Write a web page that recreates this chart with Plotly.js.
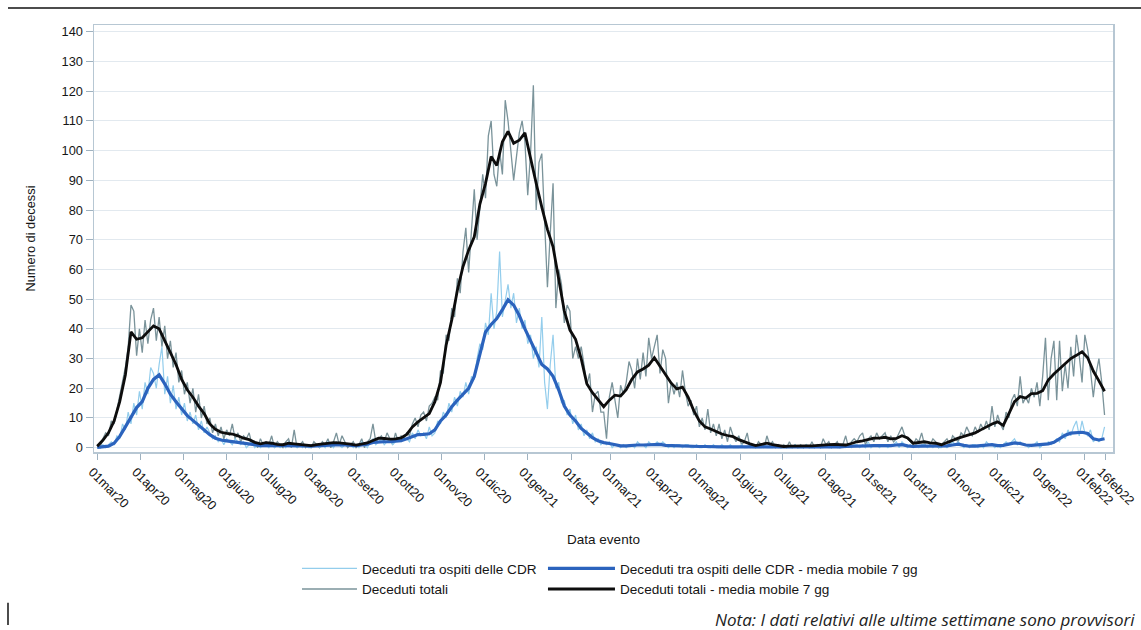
<!DOCTYPE html>
<html>
<head>
<meta charset="utf-8">
<script src="https://cdn.plot.ly/plotly-3.0.1.min.js"></script>
<style>
  html, body { margin: 0; padding: 0; background: #ffffff; }
  #chart { width: 1141px; height: 630px; }
</style>
</head>
<body>
<div id="chart"></div>
<script>
// Daily series are sampled every 2 days from 1 March 2020, 7-day averages every 4 days.
const startDate = '2020-03-01';
const dailyStepDays = 2;
const avgStepDays = 4;

// Deceduti totali (daily)
const totaliGiornalieri = [
  1, 0, 3, 5, 4, 9, 8, 13, 17, 22,
  27, 34, 48, 46, 31, 40, 32, 43, 35, 43,
  47, 36, 44, 34, 41, 30, 36, 27, 32, 22,
  26, 18, 22, 15, 20, 12, 18, 10, 14, 8,
  10, 5, 8, 4, 7, 3, 6, 4, 8, 3,
  5, 2, 4, 3, 5, 1, 2, 0, 3, 1,
  2, 1, 4, 0, 2, 1, 0, 2, 3, 0,
  6, 0, 1, 2, 0, 1, 0, 2, 1, 0,
  2, 1, 3, 0, 2, 5, 1, 4, 2, 0,
  1, 2, 0, 1, 3, 0, 2, 3, 8, 2,
  3, 4, 2, 5, 3, 1, 5, 2, 4, 3,
  5, 4, 8, 10, 7, 11, 12, 9, 14, 15,
  17, 16, 26, 25, 38, 36, 47, 44, 57, 52,
  66, 74, 59, 72, 87, 70, 80, 92, 84, 105,
  110, 92, 88, 100, 92, 117, 110, 100, 90, 98,
  106, 110, 103, 85, 99, 122, 80, 96, 99, 76,
  54, 72, 89, 47, 60, 55, 42, 48, 46, 30,
  34, 30, 34, 28, 21, 25, 12, 18, 19, 12,
  12, 3, 17, 22, 16, 10, 21, 18, 22, 29,
  26, 20, 30, 23, 32, 24, 37, 30, 34, 38,
  25, 33, 30, 15, 22, 18, 22, 17, 26, 19,
  14, 16, 11, 14, 7, 10, 6, 13, 5, 8,
  4, 8, 3, 6, 2, 7, 4, 2, 4, 1,
  2, 5, 0, 1, 0, 2, 1, 0, 4, 1,
  2, 0, 1, 0, 1, 0, 2, 0, 1, 0,
  1, 0, 1, 0, 2, 0, 1, 0, 3, 1,
  2, 0, 1, 2, 0, 1, 4, 0, 2, 3,
  2, 4, 5, 1, 3, 4, 2, 5, 3, 4,
  5, 2, 4, 2, 3, 5, 7, 4, 3, 2,
  1, 3, 2, 5, 1, 2, 1, 3, 2, 0,
  1, 2, 3, 1, 4, 3, 2, 5, 4, 7,
  5, 4, 7, 5, 8, 6, 9, 6, 14, 7,
  11, 8, 6, 12, 10, 16, 18, 14, 24, 15,
  17, 15, 20, 17, 22, 14, 24, 37, 16, 30,
  36, 16, 36, 19, 28, 20, 34, 24, 38, 31,
  22, 38, 33, 26, 17, 25, 30, 22, 11
];

// Deceduti tra ospiti delle CDR (daily)
const cdrGiornalieri = [
  0, 0, 1, 0, 1, 2, 1, 4, 3, 8,
  6, 12, 8, 15, 11, 19, 13, 22, 18, 27,
  25, 20, 28, 34, 18, 24, 15, 21, 13, 17,
  11, 15, 9, 12, 8, 11, 6, 9, 5, 7,
  5, 3, 4, 2, 3, 1, 3, 2, 1, 3,
  2, 1, 2, 0, 1, 2, 0, 1, 0, 1,
  1, 0, 2, 0, 1, 0, 1, 0, 2, 1,
  1, 0, 1, 0, 1, 0, 0, 1, 1, 0,
  1, 0, 2, 1, 0, 2, 1, 0, 1, 1,
  1, 0, 1, 0, 2, 1, 0, 2, 3, 1,
  2, 3, 1, 2, 3, 1, 2, 3, 2, 3,
  3, 2, 5, 3, 6, 4, 5, 3, 7, 4,
  5, 9, 8, 12, 10, 15, 12, 17, 14, 19,
  17, 22, 18, 24, 23, 30, 35, 33, 42, 38,
  52, 40, 46, 66, 44, 50, 55, 47, 52, 42,
  47, 40, 43, 35, 38, 30, 34, 27, 44, 22,
  13, 28, 38, 20, 22, 15, 16, 11, 13, 8,
  11, 6, 8, 4, 6, 3, 5, 2, 3, 1,
  2, 1, 2, 0, 1, 1, 0, 1, 0, 1,
  1, 0, 2, 1, 1, 0, 2, 1, 1, 2,
  1, 2, 1, 0, 1, 0, 1, 1, 0, 1,
  1, 0, 0, 1, 0, 0, 1, 0, 0, 1,
  0, 0, 1, 0, 0, 1, 0, 0, 0, 1,
  0, 0, 1, 0, 0, 0, 0, 1, 0, 0,
  0, 1, 0, 0, 0, 0, 0, 0, 1, 0,
  0, 0, 1, 0, 0, 0, 1, 0, 0, 1,
  0, 0, 1, 0, 0, 1, 0, 1, 0, 1,
  1, 0, 1, 0, 2, 0, 1, 1, 0, 1,
  1, 0, 1, 1, 2, 0, 2, 1, 0, 1,
  0, 1, 0, 1, 1, 0, 1, 0, 1, 0,
  0, 1, 0, 1, 2, 1, 2, 1, 0, 1,
  0, 1, 1, 0, 1, 0, 2, 1, 1, 0,
  1, 0, 1, 2, 1, 2, 3, 1, 2, 1,
  1, 0, 1, 1, 2, 0, 1, 1, 2, 1,
  2, 3, 2, 5, 3, 6, 4, 7, 9, 4,
  9, 5, 4, 6, 2, 3, 2, 3, 7
];

// Deceduti totali - media mobile 7 gg
const totaliMedia7 = [
  0.5, 2.5, 5, 9, 15.5, 24.5, 39, 36.5, 37, 39,
  41, 40, 36, 32, 28, 23, 19.5, 17, 14, 11.5,
  8, 6.2, 5.2, 4.8, 4.6, 4, 3.2, 2.7, 1.8, 1.3,
  1.7, 1.5, 1.1, 1.0, 1.5, 1.3, 1.1, 0.8, 0.7, 1.0,
  1.3, 1.5, 1.7, 1.6, 1.5, 1.2, 0.9, 1.2, 1.6, 2.4,
  3.2, 3.1, 2.9, 3.0, 3.3, 4.5, 7, 8.7, 10, 11.5,
  15.5, 22, 34.5, 43, 53, 61, 66.5, 71, 82, 89,
  98, 95, 103, 106.5, 102.5, 103.5, 106, 97, 89, 81,
  73.5, 67.6, 57, 46, 39.6, 36.5, 30, 21.5, 18.5, 16,
  13.8, 16, 17.7, 17.4, 19.5, 23, 25.5, 26.5, 27.8, 30.3,
  27.5, 24.8, 21.7, 19.8, 20.4, 17, 12.5, 9, 7, 6.3,
  5.4, 4.6, 4.1, 3.7, 2.7, 1.9, 1.3, 0.7, 1.0, 1.5,
  1.0, 0.8, 0.4, 0.5, 0.6, 0.6, 0.6, 0.6, 0.8, 0.9,
  1.0, 1.1, 1.0, 0.9, 1.4, 2.0, 2.3, 2.8, 3.2, 3.2,
  3.5, 3.0, 3.1, 4.0, 3.3, 1.5, 1.7, 2.0, 1.6, 1.5,
  1.0, 1.8, 2.6, 3.2, 3.8, 4.4, 5.0, 6.0, 7.0, 8.0,
  8.7, 7.5, 11.5, 15.5, 17.2, 16.7, 18.2, 18.3, 19.2, 22.8,
  24.8, 26.5, 28.5, 30, 31.1, 32.3, 30.3, 25.8, 22.5, 19
];

// Deceduti tra ospiti delle CDR - media mobile 7 gg
const cdrMedia7 = [
  0.1, 0.2, 0.5, 1.5, 3.8, 7, 10, 13.5, 15.5, 20,
  23, 24.5, 21.5, 18, 15.5, 13, 10.8, 9.2, 7.6, 6,
  4.4, 3.2, 2.6, 2.3, 2.0, 1.7, 1.4, 1.1, 0.9, 0.7,
  0.8, 0.8, 0.7, 0.6, 0.8, 0.8, 0.7, 0.6, 0.5, 0.6,
  0.8, 0.9, 1.0, 1.0, 0.9, 0.8, 0.7, 0.9, 1.2, 1.8,
  2.0, 2.0, 2.0, 2.1, 2.4, 3.0, 3.6, 4.4, 4.5, 4.7,
  6.0, 9.0, 11, 13.8, 16, 18, 20, 24, 32, 39,
  41.5, 43.5, 46.5, 49.8, 48, 44.5, 40, 36, 31.5, 28,
  26.5, 24, 19.5, 14, 11, 9, 6.5, 4.8, 3.4, 2.3,
  1.7, 1.4, 0.9, 0.6, 0.6, 0.8, 0.9, 0.9, 1.0, 1.1,
  1.1, 0.8, 0.7, 0.6, 0.5, 0.5, 0.4, 0.4, 0.4, 0.3,
  0.3, 0.3, 0.3, 0.3, 0.2, 0.2, 0.1, 0.1, 0.2, 0.2,
  0.2, 0.2, 0.1, 0.1, 0.1, 0.1, 0.2, 0.2, 0.2, 0.3,
  0.2, 0.2, 0.3, 0.4, 0.5, 0.5, 0.6, 0.6, 0.7, 0.7,
  0.6, 0.7, 0.9, 1.0, 0.6, 0.4, 0.5, 0.5, 0.6, 0.5,
  0.4, 0.6, 0.9, 1.2, 0.8, 0.5, 0.5, 0.6, 0.9, 1.0,
  0.7, 0.8, 1.2, 1.6, 1.4, 0.9, 0.8, 0.9, 1.0, 1.3,
  1.8, 3.0, 4.2, 4.9, 5.1, 5.2, 4.8, 3.0, 2.6, 3.0
];

// Axis ticks
const tickDates = [
  '2020-03-01', '2020-04-01', '2020-05-01', '2020-06-01', '2020-07-01', '2020-08-01',
  '2020-09-01', '2020-10-01', '2020-11-01', '2020-12-01', '2021-01-01', '2021-02-01',
  '2021-03-01', '2021-04-01', '2021-05-01', '2021-06-01', '2021-07-01', '2021-08-01',
  '2021-09-01', '2021-10-01', '2021-11-01', '2021-12-01', '2022-01-01', '2022-02-01',
  '2022-02-16'
];
const tickLabels = [
  '01mar20', '01apr20', '01mag20', '01giu20', '01lug20', '01ago20',
  '01set20', '01ott20', '01nov20', '01dic20', '01gen21', '01feb21',
  '01mar21', '01apr21', '01mag21', '01giu21', '01lug21', '01ago21',
  '01set21', '01ott21', '01nov21', '01dic21', '01gen22', '01feb22',
  '16feb22'
];
const yTicks = [0, 10, 20, 30, 40, 50, 60, 70, 80, 90, 100, 110, 120, 130, 140];

function datesFrom(start, stepDays, n) {
  const base = Date.parse(start + 'T00:00:00Z');
  const out = [];
  for (let i = 0; i < n; i++) {
    out.push(new Date(base + i * stepDays * 86400000).toISOString().slice(0, 10));
  }
  return out;
}

const dailyDates = datesFrom(startDate, dailyStepDays, totaliGiornalieri.length);
const avgDates = datesFrom(startDate, avgStepDays, totaliMedia7.length);

const FONT = 'Liberation Sans, Arial, Helvetica, sans-serif';
const TEXT = '#151515';

const traces = [
  {
    x: dailyDates, y: totaliGiornalieri, type: 'scatter', mode: 'lines',
    name: 'Deceduti totali', legend: 'legend', legendrank: 2,
    line: { color: '#7a939a', width: 1.3 }
  },
  {
    x: dailyDates, y: cdrGiornalieri, type: 'scatter', mode: 'lines',
    name: 'Deceduti tra ospiti delle CDR', legend: 'legend', legendrank: 1,
    line: { color: '#93cdec', width: 1.2 }
  },
  {
    x: avgDates, y: cdrMedia7, type: 'scatter', mode: 'lines',
    name: 'Deceduti tra ospiti delle CDR - media mobile 7 gg', legend: 'legend2', legendrank: 1,
    line: { color: '#2b63bd', width: 3.2 }
  },
  {
    x: avgDates, y: totaliMedia7, type: 'scatter', mode: 'lines',
    name: 'Deceduti totali - media mobile 7 gg', legend: 'legend2', legendrank: 2,
    line: { color: '#0d0d0d', width: 2.8 }
  }
];

const axisLine = '#b7c7d3';

const layout = {
  width: 1141, height: 630,
  margin: { l: 94, r: 28, t: 25, b: 178 },
  paper_bgcolor: '#ffffff', plot_bgcolor: '#ffffff',
  font: { family: FONT, size: 12.6, color: TEXT },
  showlegend: true,
  xaxis: {
    type: 'date',
    range: ['2020-02-27 17:00', '2022-02-21'],
    tickvals: tickDates, ticktext: tickLabels,
    tickangle: 45, ticklabeloverflow: 'allow', ticklabelshift: -5,
    ticks: 'outside', ticklen: 6, tickcolor: '#9fb2c0', tickwidth: 1,
    showgrid: false, zeroline: false,
    showline: true, mirror: true, linecolor: axisLine, linewidth: 1.5,
    tickfont: { family: FONT, size: 12.8, color: TEXT },
    title: { text: 'Data evento', font: { family: FONT, size: 13.5, color: TEXT }, standoff: 22 }
  },
  yaxis: {
    range: [-1.45, 142.3],
    tickvals: yTicks,
    ticks: 'outside', ticklen: 7, tickcolor: '#9fb2c0', tickwidth: 1,
    showgrid: true, gridcolor: '#e2e9ef', gridwidth: 1,
    zeroline: false,
    showline: true, mirror: true, linecolor: axisLine, linewidth: 1.5,
    tickfont: { family: FONT, size: 12.8, color: TEXT },
    title: { text: 'Numero di decessi', font: { family: FONT, size: 12.8, color: TEXT }, standoff: 23 }
  },
  legend: {
    x: 0.1992, xanchor: 'left', y: -0.2365, yanchor: 'top',
    orientation: 'v', bgcolor: 'rgba(0,0,0,0)', borderwidth: 0,
    itemwidth: 55, tracegroupgap: 0,
    font: { family: FONT, size: 13.6, color: TEXT }
  },
  legend2: {
    x: 0.4406, xanchor: 'left', y: -0.2365, yanchor: 'top',
    orientation: 'v', bgcolor: 'rgba(0,0,0,0)', borderwidth: 0,
    itemwidth: 67, tracegroupgap: 0,
    font: { family: FONT, size: 13.6, color: TEXT }
  },
  annotations: [
    {
      xref: 'paper', yref: 'paper', x: 1.0236, y: -0.393,
      xanchor: 'right', yanchor: 'middle', showarrow: false,
      text: '<i>Nota: I dati relativi alle ultime settimane sono provvisori</i>',
      font: { family: 'Open Sans, DejaVu Sans, sans-serif', size: 17, color: '#222222' }
    }
  ],
  shapes: [
    // page rule above the chart
    { type: 'line', xref: 'paper', yref: 'paper', x0: -0.0844, x1: 1.03, y0: 1.0398, y1: 1.0398,
      line: { color: '#111111', width: 1.5 } },
    // margin mark at the bottom left
    { type: 'line', xref: 'paper', yref: 'paper', x0: -0.0844, x1: -0.0844, y0: -0.353, y1: -0.405,
      line: { color: '#111111', width: 1.5 } }
  ]
};

Plotly.newPlot('chart', traces, layout, { displayModeBar: false, staticPlot: true });
</script>
</body>
</html>
